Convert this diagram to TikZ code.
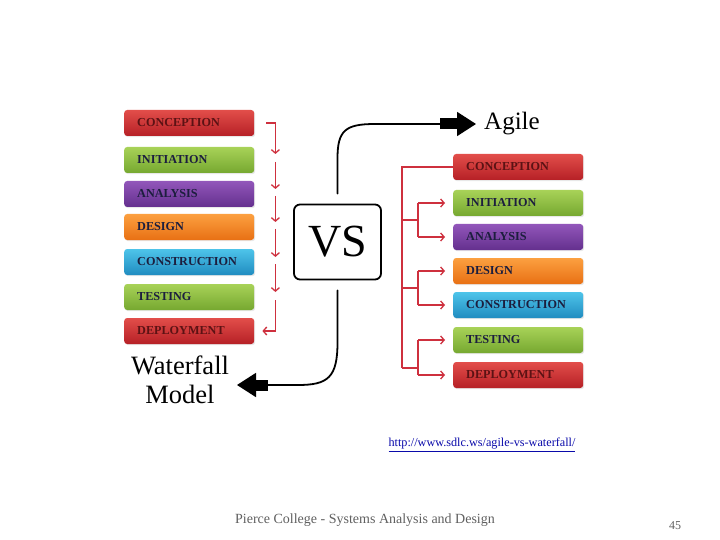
\documentclass[tikz,border=0pt]{standalone}
\usepackage{fontspec}
\setmainfont{Liberation Serif}
\usetikzlibrary{arrows.meta,shadows}

\definecolor{redtop}{RGB}{226,78,74}
\definecolor{redbot}{RGB}{182,32,38}
\definecolor{redtxt}{RGB}{92,18,20}
\definecolor{greentop}{RGB}{168,210,88}
\definecolor{greenbot}{RGB}{118,168,48}
\definecolor{purpletop}{RGB}{146,86,186}
\definecolor{purplebot}{RGB}{100,48,142}
\definecolor{orangetop}{RGB}{252,160,64}
\definecolor{orangebot}{RGB}{232,112,20}
\definecolor{bluetop}{RGB}{78,196,234}
\definecolor{bluebot}{RGB}{32,140,192}
\definecolor{stagetxt}{RGB}{28,30,62}
\definecolor{linkred}{RGB}{206,48,62}
\definecolor{urlblue}{RGB}{10,10,170}
\definecolor{footgray}{RGB}{96,96,96}

\tikzset{
  stage/.style={rounded corners=3pt, minimum height=26pt, text width=104pt,
    inner xsep=13pt, inner ysep=0pt, align=left, anchor=west,
    font=\bfseries\fontsize{12.2}{13}\selectfont,
    drop shadow={opacity=0.18, shadow xshift=1pt, shadow yshift=-1.2pt}},
  s-red/.style={top color=redtop, bottom color=redbot, text=redtxt},
  s-green/.style={top color=greentop, bottom color=greenbot, text=stagetxt},
  s-purple/.style={top color=purpletop, bottom color=purplebot, text=stagetxt},
  s-orange/.style={top color=orangetop, bottom color=orangebot, text=stagetxt},
  s-blue/.style={top color=bluetop, bottom color=bluebot, text=stagetxt},
  redln/.style={draw=linkred, line width=1.3pt},
  tip/.style={-{Straight Barb[length=3.5pt,width=8pt]}},
  conn/.style={line width=1.8pt, line cap=round},
  fat/.style={-{Triangle[length=19pt,width=24pt]}},
}

\begin{document}
\begin{tikzpicture}[x=1pt,y=-1pt]
  \fill[white] (0,0) rectangle (720,540);
  \useasboundingbox (0,0) rectangle (720,540);

  % waterfall stages
  \foreach \n/\y/\t/\c in {1/123/CONCEPTION/red, 2/160/INITIATION/green,
      3/194/ANALYSIS/purple, 4/227/DESIGN/orange, 5/262/CONSTRUCTION/blue,
      6/297/TESTING/green, 7/331/DEPLOYMENT/red}
    \node[stage, s-\c] (w\n) at (124,\y) {\t};

  % agile stages
  \foreach \n/\y/\t/\c in {1/167/CONCEPTION/red, 2/203/INITIATION/green,
      3/237/ANALYSIS/purple, 4/271/DESIGN/orange, 5/305/CONSTRUCTION/blue,
      6/340/TESTING/green, 7/375/DEPLOYMENT/red}
    \node[stage, s-\c] (a\n) at (453,\y) {\t};

  \node[draw, line width=1.8pt, rounded corners=6pt, minimum width=87pt,
    minimum height=75pt, inner sep=0pt, font=\fontsize{46}{46}\selectfont] (vs) at (337.5,242) {VS};
  \node[anchor=west, inner sep=8pt, font=\fontsize{25}{28}\selectfont] (agile) at (476,124) {Agile};
  \node[align=center, inner sep=0pt, font=\fontsize{26.5}{29}\selectfont] (wf) at (180,380) {Waterfall\\Model};
  \coordinate (wfin) at (237,385);

  % waterfall chain
  \draw[redln,tip] ([xshift=12pt]w1.east) -- ([xshift=21pt]w1.east) -- ([xshift=21pt,yshift=6pt]w2.east);
  \foreach \i/\j in {2/3,3/4,4/5,5/6}
    \draw[redln,tip] ([xshift=21pt,yshift=-2pt]w\i.east) -- ([xshift=21pt,yshift=5pt]w\j.east);
  \draw[redln,tip] ([xshift=21pt,yshift=-3pt]w6.east) |- ([xshift=8pt]w7.east);

  % agile tree
  \coordinate (tr) at (402,0);
  \coordinate (br) at (418,0);
  \draw[redln] (a1.west) -| (tr |- 0,368);
  \foreach \i/\j/\m in {2/3/220, 4/5/288, 6/7/368} {
    \draw[redln] (tr |- 0,\m) -- (br |- 0,\m);
    \draw[redln] (br |- a\i) -- (br |- a\j);
    \draw[redln,tip] (br |- a\i) -- ([xshift=-8pt]a\i.west);
    \draw[redln,tip] (br |- a\j) -- ([xshift=-8pt]a\j.west);
  }

  % VS to Agile / Waterfall
  \draw[conn,fat] ([yshift=10pt]vs.north) -- ++(0,-35) .. controls +(0,-28) and +(-30,0) .. (375,124) -- (agile.west);
  \draw[line width=11pt] ([xshift=-36pt]agile.west) -- ([xshift=-18pt]agile.west);
  \draw[conn,fat] ([yshift=-10pt]vs.south) -- ++(0,52) .. controls +(0,35) and +(30,0) .. (298,385) -- (wfin);
  \draw[line width=11pt] ([xshift=15pt]wfin) -- ([xshift=31pt]wfin);

  % source and footer
  \node[text=urlblue, font=\fontsize{12.2}{14}\selectfont] (src) at (482,445) {\underline{http://www.sdlc.ws/agile-vs-waterfall/}};
  \node[text=footgray, font=\fontsize{14}{16}\selectfont] (foot) at (365,520) {Pierce College - Systems Analysis and Design};
  \node[text=footgray, font=\fontsize{12}{14}\selectfont] (page) at (675,526) {45};
\end{tikzpicture}
\end{document}
